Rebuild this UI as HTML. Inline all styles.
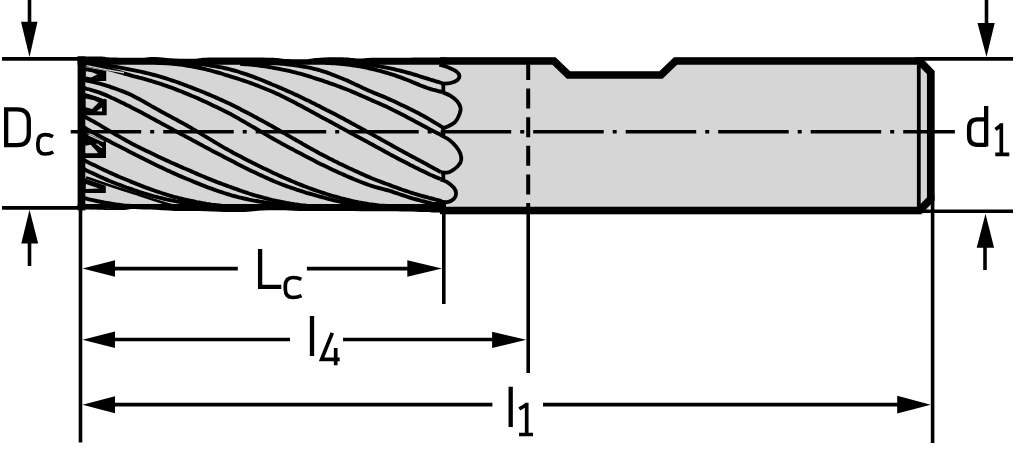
<!DOCTYPE html>
<html><head><meta charset="utf-8"><style>
html,body{margin:0;padding:0;background:#fff;overflow:hidden;width:1024px;height:450px;font-family:"Liberation Sans",sans-serif;}
svg{display:block;}
</style></head><body>
<svg width="1024" height="450" viewBox="0 0 1024 450">
<defs>
<clipPath id="fl"><rect x="82" y="60" width="361.5" height="150"/></clipPath>
</defs>
<path d="M78 61 L446 61 L446 57 L554.5 57 L570 71.5 L660 71.5 L675 57 L923.5 57 L934.5 72 L934.5 203 L923 214.5 L445 214.5 L445 205 L78 205 Z" fill="#d6d6d6"/>
<g clip-path="url(#fl)" fill="none" stroke="#000" stroke-width="3.9" stroke-linejoin="round">
<polyline points="84.0,211.6 86.5,211.9 89.0,211.9 91.5,211.7 94.0,211.6 96.5,211.5 99.0,211.3 101.5,211.1 104.0,210.9 106.5,210.6 109.0,210.3 111.5,210.0 114.0,209.7 116.5,209.3 119.0,208.9 121.5,208.5 124.0,208.1 126.5,207.7 129.0,207.3 131.5,207.1 134.0,206.9 136.5,206.8 139.0,206.7 141.5,206.7 144.0,206.7 146.5,206.7 149.0,206.7 151.5,206.7 154.0,206.7 156.5,206.7 159.0,206.7 161.5,206.7 164.0,206.7 166.5,206.7 169.0,206.7"/>
<polyline points="84.0,198.0 86.5,198.7 89.0,199.4 91.5,199.9 94.0,200.4 96.5,201.0 99.0,201.5 101.5,202.0 104.0,202.5 106.5,202.9 109.0,203.3 111.5,203.7 114.0,204.1 116.5,204.5 119.0,204.8 121.5,205.1 124.0,205.4 126.5,205.6 129.0,205.8 131.5,206.0 134.0,206.2 136.5,206.3 139.0,206.4 141.5,206.5 144.0,206.6 146.5,206.6 149.0,206.7 151.5,206.7 154.0,206.7 156.5,206.7 159.0,206.7 161.5,206.7 164.0,206.7 166.5,206.7 169.0,206.7 171.5,206.7 174.0,206.7 176.5,206.7 179.0,206.7 181.5,206.7 184.0,206.7 186.5,206.7"/>
<polyline points="84.0,169.0 86.5,170.5 89.0,171.7 91.5,172.8 94.0,173.9 96.5,175.1 99.0,176.2 101.5,177.4 104.0,178.5 106.5,179.6 109.0,180.7 111.5,181.7 114.0,182.7 116.5,183.7 119.0,184.7 121.5,185.6 124.0,186.6 126.5,187.5 129.0,188.3 131.5,189.2 134.0,190.1 136.5,190.9 139.0,191.8 141.5,192.6 144.0,193.4 146.5,194.1 149.0,194.9 151.5,195.6 154.0,196.3 156.5,196.9 159.0,197.6 161.5,198.2 164.0,198.8 166.5,199.4 169.0,199.9 171.5,200.4 174.0,200.9 176.5,201.4 179.0,201.8 181.5,202.2 184.0,202.6 186.5,203.0 189.0,203.4 191.5,203.7 194.0,204.0 196.5,204.3 199.0,204.6 201.5,204.9 204.0,205.1 206.5,205.3 209.0,205.5 211.5,205.7 214.0,205.8 216.5,205.9 219.0,206.0 221.5,206.1 224.0,206.2 226.5,206.3 229.0,206.4 231.5,206.5 234.0,206.6 236.5,206.6 239.0,206.7 241.5,206.7 244.0,206.7 246.5,206.7 249.0,206.7 251.5,206.7 254.0,206.7"/>
<polyline points="84.0,160.0 86.5,161.5 89.0,162.8 91.5,164.0 94.0,165.1 96.5,166.3 99.0,167.5 101.5,168.7 104.0,169.9 106.5,171.1 109.0,172.3 111.5,173.4 114.0,174.5 116.5,175.6 119.0,176.7 121.5,177.7 124.0,178.8 126.5,179.8 129.0,180.8 131.5,181.9 134.0,182.9 136.5,183.9 139.0,184.9 141.5,185.9 144.0,186.9 146.5,187.8 149.0,188.7 151.5,189.6 154.0,190.5 156.5,191.4 159.0,192.2 161.5,193.0 164.0,193.8 166.5,194.6 169.0,195.4 171.5,196.1 174.0,196.8 176.5,197.4 179.0,198.1 181.5,198.7 184.0,199.3 186.5,199.9 189.0,200.5 191.5,201.0 194.0,201.5 196.5,202.1 199.0,202.5 201.5,203.0 204.0,203.4 206.5,203.9 209.0,204.2 211.5,204.6 214.0,204.9 216.5,205.2 219.0,205.5 221.5,205.8 224.0,206.0 226.5,206.2 229.0,206.3 231.5,206.5 234.0,206.6 236.5,206.6 239.0,206.7 241.5,206.7 244.0,206.7 246.5,206.7 249.0,206.7 251.5,206.7 254.0,206.7 256.5,206.7 259.0,206.7 261.5,206.7 264.0,206.7 266.5,206.7 269.0,206.7 271.5,206.7"/>
<polyline points="84.0,127.2 86.5,128.9 89.0,130.3 91.5,131.7 94.0,133.0 96.5,134.4 99.0,135.7 101.5,137.1 104.0,138.4 106.5,139.7 109.0,141.0 111.5,142.4 114.0,143.7 116.5,145.0 119.0,146.2 121.5,147.5 124.0,148.8 126.5,150.1 129.0,151.4 131.5,152.7 134.0,154.0 136.5,155.3 139.0,156.5 141.5,157.8 144.0,159.1 146.5,160.3 149.0,161.6 151.5,162.8 154.0,164.0 156.5,165.2 159.0,166.4 161.5,167.6 164.0,168.8 166.5,170.0 169.0,171.1 171.5,172.3 174.0,173.4 176.5,174.5 179.0,175.6 181.5,176.6 184.0,177.7 186.5,178.8 189.0,179.8 191.5,180.8 194.0,181.9 196.5,182.9 199.0,183.9 201.5,184.9 204.0,185.9 206.5,186.9 209.0,187.8 211.5,188.7 214.0,189.6 216.5,190.5 219.0,191.4 221.5,192.2 224.0,193.0 226.5,193.8 229.0,194.5 231.5,195.3 234.0,196.0 236.5,196.6 239.0,197.3 241.5,197.9 244.0,198.5 246.5,199.0 249.0,199.6 251.5,200.1 254.0,200.6 256.5,201.0 259.0,201.5 261.5,201.9 264.0,202.3 266.5,202.6 269.0,203.0 271.5,203.3 274.0,203.6 276.5,203.9 279.0,204.2 281.5,204.5 284.0,204.7 286.5,205.0 289.0,205.2 291.5,205.4 294.0,205.6 296.5,205.7 299.0,205.8 301.5,206.0 304.0,206.1 306.5,206.2 309.0,206.2 311.5,206.3 314.0,206.4 316.5,206.5 319.0,206.6 321.5,206.6 324.0,206.7 326.5,206.7 329.0,206.7 331.5,206.7 334.0,206.7 336.5,206.7 339.0,206.7"/>
<polyline points="84.0,115.9 86.5,117.6 89.0,119.1 91.5,120.4 94.0,121.8 96.5,123.2 99.0,124.7 101.5,126.2 104.0,127.6 106.5,129.1 109.0,130.6 111.5,132.1 114.0,133.5 116.5,135.0 119.0,136.4 121.5,137.9 124.0,139.3 126.5,140.7 129.0,142.1 131.5,143.4 134.0,144.7 136.5,146.0 139.0,147.2 141.5,148.5 144.0,149.7 146.5,150.9 149.0,152.1 151.5,153.3 154.0,154.5 156.5,155.7 159.0,156.9 161.5,158.1 164.0,159.2 166.5,160.4 169.0,161.5 171.5,162.7 174.0,163.8 176.5,164.9 179.0,166.0 181.5,167.1 184.0,168.2 186.5,169.2 189.0,170.3 191.5,171.4 194.0,172.5 196.5,173.6 199.0,174.7 201.5,175.8 204.0,176.8 206.5,177.9 209.0,178.9 211.5,179.9 214.0,180.9 216.5,181.9 219.0,182.8 221.5,183.7 224.0,184.7 226.5,185.6 229.0,186.5 231.5,187.4 234.0,188.3 236.5,189.2 239.0,190.1 241.5,191.0 244.0,191.9 246.5,192.7 249.0,193.5 251.5,194.3 254.0,195.1 256.5,195.8 259.0,196.5 261.5,197.2 264.0,197.9 266.5,198.5 269.0,199.2 271.5,199.8 274.0,200.3 276.5,200.9 279.0,201.4 281.5,201.9 284.0,202.4 286.5,202.9 289.0,203.3 291.5,203.8 294.0,204.2 296.5,204.5 299.0,204.9 301.5,205.2 304.0,205.4 306.5,205.7 309.0,205.9 311.5,206.1 314.0,206.3 316.5,206.4 319.0,206.5 321.5,206.6 324.0,206.7 326.5,206.7 329.0,206.7 331.5,206.7 334.0,206.7 336.5,206.7 339.0,206.7 341.5,206.7 344.0,206.7 346.5,206.7 349.0,206.7 351.5,206.7 354.0,206.7 356.5,206.7"/>
<polyline points="84.0,87.7 86.5,88.8 89.0,89.4 91.5,90.1 94.0,90.8 96.5,91.6 99.0,92.4 101.5,93.4 104.0,94.4 106.5,95.4 109.0,96.5 111.5,97.7 114.0,98.8 116.5,100.0 119.0,101.2 121.5,102.4 124.0,103.6 126.5,104.9 129.0,106.1 131.5,107.4 134.0,108.7 136.5,110.0 139.0,111.3 141.5,112.6 144.0,113.9 146.5,115.3 149.0,116.6 151.5,118.0 154.0,119.3 156.5,120.7 159.0,122.0 161.5,123.4 164.0,124.7 166.5,126.1 169.0,127.4 171.5,128.8 174.0,130.2 176.5,131.5 179.0,132.9 181.5,134.2 184.0,135.6 186.5,136.9 189.0,138.3 191.5,139.6 194.0,141.0 196.5,142.3 199.0,143.7 201.5,145.0 204.0,146.4 206.5,147.7 209.0,149.0 211.5,150.4 214.0,151.7 216.5,153.0 219.0,154.3 221.5,155.6 224.0,156.9 226.5,158.2 229.0,159.5 231.5,160.8 234.0,162.1 236.5,163.4 239.0,164.7 241.5,165.9 244.0,167.2 246.5,168.4 249.0,169.7 251.5,170.9 254.0,172.1 256.5,173.3 259.0,174.5 261.5,175.6 264.0,176.8 266.5,177.9 269.0,179.0 271.5,180.1 274.0,181.2 276.5,182.2 279.0,183.2 281.5,184.2 284.0,185.2 286.5,186.1 289.0,187.0 291.5,187.9 294.0,188.7 296.5,189.6 299.0,190.4 301.5,191.2 304.0,192.0 306.5,192.8 309.0,193.5 311.5,194.2 314.0,194.9 316.5,195.6 319.0,196.3 321.5,197.0 324.0,197.7 326.5,198.3 329.0,199.0 331.5,199.6 334.0,200.3 336.5,200.9 339.0,201.4 341.5,202.0 344.0,202.5 346.5,203.0 349.0,203.5 351.5,203.9 354.0,204.3 356.5,204.7 359.0,205.1 361.5,205.4 364.0,205.7 366.5,205.9 369.0,206.1 371.5,206.3 374.0,206.4 376.5,206.5 379.0,206.6 381.5,206.6 384.0,206.7 386.5,206.7 389.0,206.7 391.5,206.7 394.0,206.7 396.5,206.7 399.0,206.7 401.5,206.7 404.0,206.7 406.5,206.7 409.0,206.7 411.5,206.7 414.0,206.7 416.5,206.7 419.0,206.7 421.5,206.7 424.0,206.7"/>
<polyline points="84.0,79.8 86.5,80.7 89.0,81.2 91.5,81.7 94.0,82.2 96.5,82.8 99.0,83.4 101.5,84.1 104.0,84.8 106.5,85.6 109.0,86.4 111.5,87.3 114.0,88.2 116.5,89.0 119.0,90.0 121.5,90.9 124.0,91.8 126.5,92.9 129.0,93.9 131.5,95.1 134.0,96.4 136.5,97.7 139.0,99.0 141.5,100.4 144.0,101.8 146.5,103.2 149.0,104.6 151.5,106.1 154.0,107.5 156.5,108.9 159.0,110.3 161.5,111.7 164.0,113.1 166.5,114.4 169.0,115.8 171.5,117.1 174.0,118.5 176.5,119.8 179.0,121.2 181.5,122.5 184.0,123.9 186.5,125.3 189.0,126.7 191.5,128.2 194.0,129.7 196.5,131.2 199.0,132.7 201.5,134.2 204.0,135.7 206.5,137.2 209.0,138.7 211.5,140.2 214.0,141.7 216.5,143.1 219.0,144.6 221.5,146.1 224.0,147.6 226.5,149.0 229.0,150.4 231.5,151.8 234.0,153.2 236.5,154.5 239.0,155.8 241.5,157.1 244.0,158.4 246.5,159.7 249.0,161.0 251.5,162.3 254.0,163.5 256.5,164.8 259.0,166.0 261.5,167.2 264.0,168.4 266.5,169.6 269.0,170.8 271.5,172.0 274.0,173.2 276.5,174.3 279.0,175.5 281.5,176.6 284.0,177.7 286.5,178.8 289.0,179.9 291.5,181.0 294.0,182.0 296.5,183.1 299.0,184.1 301.5,185.1 304.0,186.1 306.5,187.0 309.0,188.0 311.5,188.9 314.0,189.8 316.5,190.7 319.0,191.5 321.5,192.4 324.0,193.2 326.5,194.0 329.0,194.8 331.5,195.6 334.0,196.3 336.5,197.0 339.0,197.7 341.5,198.4 344.0,199.0 346.5,199.6 349.0,200.2 351.5,200.8 354.0,201.4 356.5,201.9 359.0,202.4 361.5,202.8 364.0,203.3 366.5,203.7 369.0,204.1 371.5,204.4 374.0,204.8 376.5,205.1 379.0,205.4 381.5,205.6 384.0,205.8 386.5,206.0 389.0,206.2 391.5,206.3 394.0,206.5 396.5,206.5 399.0,206.6 401.5,206.7 404.0,206.7 406.5,206.7 409.0,206.7 411.5,206.7 414.0,206.7 416.5,206.7 419.0,206.7 421.5,206.7 424.0,206.7 426.5,206.7 429.0,206.7 431.5,206.7 434.0,206.7 436.5,206.7 439.0,206.7 441.5,206.7"/>
<polyline points="84.0,64.4 86.5,64.8 89.0,65.2 91.5,65.7 94.0,66.1 96.5,66.5 99.0,67.0 101.5,67.6 104.0,68.1 106.5,68.7 109.0,69.3 111.5,69.9 114.0,70.6 116.5,71.3 119.0,72.0 121.5,72.7 124.0,73.5 126.5,74.2 129.0,74.9 131.5,75.6 134.0,76.3 136.5,76.9 139.0,77.6 141.5,78.2 144.0,78.9 146.5,79.6 149.0,80.3 151.5,81.0 154.0,81.8 156.5,82.6 159.0,83.4 161.5,84.2 164.0,85.1 166.5,85.9 169.0,86.8 171.5,87.7 174.0,88.6 176.5,89.6 179.0,90.6 181.5,91.5 184.0,92.6 186.5,93.6 189.0,94.6 191.5,95.7 194.0,96.7 196.5,97.8 199.0,98.9 201.5,100.1 204.0,101.2 206.5,102.3 209.0,103.5 211.5,104.7 214.0,105.9 216.5,107.1 219.0,108.3 221.5,109.5 224.0,110.7 226.5,112.0 229.0,113.3 231.5,114.6 234.0,116.0 236.5,117.4 239.0,118.8 241.5,120.3 244.0,121.7 246.5,123.2 249.0,124.6 251.5,126.1 254.0,127.5 256.5,129.0 259.0,130.5 261.5,131.9 264.0,133.4 266.5,134.9 269.0,136.3 271.5,137.8 274.0,139.2 276.5,140.6 279.0,142.0 281.5,143.4 284.0,144.7 286.5,146.1 289.0,147.5 291.5,148.8 294.0,150.1 296.5,151.5 299.0,152.8 301.5,154.1 304.0,155.4 306.5,156.8 309.0,158.1 311.5,159.3 314.0,160.6 316.5,161.9 319.0,163.2 321.5,164.4 324.0,165.6 326.5,166.8 329.0,168.0 331.5,169.2 334.0,170.4 336.5,171.5 339.0,172.7 341.5,173.8 344.0,174.9 346.5,176.0 349.0,177.1 351.5,178.1 354.0,179.2 356.5,180.2 359.0,181.2 361.5,182.2 364.0,183.2 366.5,184.1 369.0,185.0 371.5,185.8 374.0,186.6 376.5,187.3 379.0,188.0 381.5,188.6 384.0,189.3 386.5,190.0 389.0,190.7 391.5,191.4 394.0,192.3 396.5,193.1 399.0,194.0 401.5,194.8 404.0,195.7 406.5,196.5 409.0,197.3 411.5,198.1 414.0,198.8 416.5,199.5 419.0,200.2 421.5,200.9 424.0,201.5 426.5,202.2 429.0,202.7 431.5,203.3 434.0,203.8 436.5,204.2 439.0,204.6 441.5,205.0"/>
<polyline points="89.2,63.9 91.7,64.0 94.2,64.2 96.7,64.4 99.2,64.6 101.7,64.9 104.2,65.2 106.7,65.5 109.2,65.8 111.7,66.2 114.2,66.6 116.7,67.0 119.2,67.4 121.7,67.9 124.2,68.4 126.7,68.9 129.2,69.4 131.7,69.9 134.2,70.4 136.7,70.9 139.2,71.4 141.7,71.9 144.2,72.5 146.7,73.1 149.2,73.7 151.7,74.3 154.2,75.0 156.7,75.7 159.2,76.4 161.7,77.1 164.2,77.9 166.7,78.7 169.2,79.5 171.7,80.3 174.2,81.2 176.7,82.0 179.2,82.9 181.7,83.8 184.2,84.8 186.7,85.7 189.2,86.7 191.7,87.6 194.2,88.6 196.7,89.6 199.2,90.5 201.7,91.5 204.2,92.5 206.7,93.6 209.2,94.6 211.7,95.7 214.2,96.8 216.7,97.9 219.2,99.0 221.7,100.1 224.2,101.2 226.7,102.4 229.2,103.6 231.7,104.8 234.2,106.1 236.7,107.3 239.2,108.6 241.7,109.9 244.2,111.2 246.7,112.5 249.2,113.8 251.7,115.1 254.2,116.5 256.7,117.8 259.2,119.2 261.7,120.5 264.2,121.9 266.7,123.3 269.2,124.7 271.7,126.0 274.2,127.5 276.7,128.9 279.2,130.3 281.7,131.8 284.2,133.2 286.7,134.7 289.2,136.1 291.7,137.6 294.2,139.0 296.7,140.5 299.2,141.9 301.7,143.3 304.2,144.8 306.7,146.2 309.2,147.6 311.7,149.0 314.2,150.4 316.7,151.8 319.2,153.2 321.7,154.5 324.2,155.8 326.7,157.1 329.2,158.4 331.7,159.6 334.2,160.9 336.7,162.1 339.2,163.4 341.7,164.6 344.2,165.8 346.7,167.0 349.2,168.2 351.7,169.3 354.2,170.5 356.7,171.6 359.2,172.8 361.7,173.9 364.2,175.0 366.7,176.1 369.2,177.1 371.7,178.2 374.2,179.2 376.7,180.2 379.2,181.2 381.7,182.1 384.2,183.1 386.7,184.0 389.2,184.9 391.7,185.9 394.2,186.8 396.7,187.7 399.2,188.6 401.7,189.5 404.2,190.3 406.7,191.2 409.2,192.0 411.7,192.8 414.2,193.6 416.7,194.3 419.2,195.1 421.7,195.8 424.2,196.5 426.7,197.2 429.2,197.9 431.7,198.5 434.2,199.2 436.7,199.8 439.2,200.4 441.7,201.1"/>
<polyline points="155.2,62.9 157.7,62.9 160.2,63.0 162.7,63.1 165.2,63.2 167.7,63.3 170.2,63.5 172.7,63.7 175.2,64.0 177.7,64.2 180.2,64.6 182.7,64.9 185.2,65.3 187.7,65.7 190.2,66.1 192.7,66.5 195.2,67.0 197.7,67.5 200.2,68.0 202.7,68.6 205.2,69.2 207.7,69.8 210.2,70.4 212.7,71.1 215.2,71.8 217.7,72.5 220.2,73.2 222.7,74.0 225.2,74.8 227.7,75.5 230.2,76.3 232.7,77.1 235.2,77.9 237.7,78.7 240.2,79.5 242.7,80.3 245.2,81.2 247.7,82.0 250.2,82.9 252.7,83.8 255.2,84.8 257.7,85.7 260.2,86.7 262.7,87.7 265.2,88.7 267.7,89.7 270.2,90.8 272.7,91.8 275.2,93.0 277.7,94.1 280.2,95.3 282.7,96.5 285.2,97.7 287.7,99.0 290.2,100.3 292.7,101.5 295.2,102.8 297.7,104.2 300.2,105.5 302.7,106.8 305.2,108.2 307.7,109.5 310.2,110.9 312.7,112.2 315.2,113.6 317.7,115.0 320.2,116.4 322.7,117.7 325.2,119.1 327.7,120.4 330.2,121.8 332.7,123.1 335.2,124.5 337.7,125.8 340.2,127.2 342.7,128.6 345.2,129.9 347.7,131.3 350.2,132.7 352.7,134.0 355.2,135.4 357.7,136.7 360.2,138.1 362.7,139.4 365.2,140.8 367.7,142.1 370.2,143.5 372.7,144.8 375.2,146.2 377.7,147.6 380.2,148.9 382.7,150.3 385.2,151.7 387.7,153.0 390.2,154.4 392.7,155.7 395.2,157.1 397.7,158.4 400.2,159.7 402.7,161.0 405.2,162.3 407.7,163.6 410.2,164.9 412.7,166.1 415.2,167.4 417.7,168.6 420.2,169.9 422.7,171.1 425.2,172.3 427.7,173.5 430.2,174.7 432.7,175.8 435.2,176.9 437.7,177.9 440.2,179.0 440.6,179.4"/>
<polyline points="174.1,62.9 176.6,62.9 179.1,62.9 181.6,62.9 184.1,63.0 186.6,63.1 189.1,63.3 191.6,63.4 194.1,63.6 196.6,63.8 199.1,64.1 201.6,64.3 204.1,64.6 206.6,64.9 209.1,65.3 211.6,65.7 214.1,66.1 216.6,66.5 219.1,67.0 221.6,67.4 224.1,68.0 226.6,68.5 229.1,69.1 231.6,69.8 234.1,70.5 236.6,71.2 239.1,72.0 241.6,72.8 244.1,73.6 246.6,74.4 249.1,75.3 251.6,76.2 254.1,77.1 256.6,78.1 259.1,79.0 261.6,80.0 264.1,81.0 266.6,82.1 269.1,83.1 271.6,84.2 274.1,85.2 276.6,86.3 279.1,87.4 281.6,88.4 284.1,89.5 286.6,90.6 289.1,91.7 291.6,92.8 294.1,94.0 296.6,95.1 299.1,96.3 301.6,97.5 304.1,98.7 306.6,99.9 309.1,101.1 311.6,102.4 314.1,103.6 316.6,104.9 319.1,106.1 321.6,107.4 324.1,108.7 326.6,110.0 329.1,111.2 331.6,112.5 334.1,113.8 336.6,115.1 339.1,116.5 341.6,117.8 344.1,119.1 346.6,120.5 349.1,121.8 351.6,123.2 354.1,124.5 356.6,125.9 359.1,127.2 361.6,128.6 364.1,130.0 366.6,131.4 369.1,132.7 371.6,134.1 374.1,135.5 376.6,136.9 379.1,138.3 381.6,139.7 384.1,141.1 386.6,142.5 389.1,143.9 391.6,145.3 394.1,146.7 396.6,148.1 399.1,149.5 401.6,150.8 404.1,152.2 406.6,153.5 409.1,154.9 411.6,156.2 414.1,157.6 416.6,158.9 419.1,160.2 421.6,161.6 424.1,162.9 426.6,164.3 429.1,165.7 431.6,167.1 434.1,168.4 436.6,169.7 439.1,171.1 440.6,172.2"/>
<polyline points="240.1,63.9 242.6,64.1 245.1,64.2 247.6,64.4 250.1,64.6 252.6,64.8 255.1,65.1 257.6,65.4 260.1,65.7 262.6,66.0 265.1,66.4 267.6,66.8 270.1,67.2 272.6,67.7 275.1,68.1 277.6,68.6 280.1,69.1 282.6,69.6 285.1,70.1 287.6,70.6 290.1,71.2 292.6,71.8 295.1,72.4 297.6,73.1 300.1,73.7 302.6,74.4 305.1,75.2 307.6,75.9 310.1,76.7 312.6,77.5 315.1,78.3 317.6,79.1 320.1,79.9 322.6,80.7 325.1,81.6 327.6,82.4 330.1,83.3 332.6,84.1 335.1,85.0 337.6,86.0 340.1,86.9 342.6,87.9 345.1,88.8 347.6,89.8 350.1,90.8 352.6,91.9 355.1,92.9 357.6,94.0 360.1,95.1 362.6,96.2 365.1,97.3 367.6,98.4 370.1,99.5 372.6,100.6 375.1,101.7 377.6,102.8 380.1,103.9 382.6,105.0 385.1,106.1 387.6,107.3 390.1,108.5 392.6,109.7 395.1,110.9 397.6,112.2 400.1,113.5 402.6,114.8 405.1,116.1 407.6,117.4 410.1,118.7 412.6,120.0 415.1,121.4 417.6,122.7 420.1,124.1 422.6,125.4 425.1,126.8 427.6,128.1 430.1,129.5 432.6,130.8 435.1,132.0 437.6,133.2 440.1,134.5 441.7,135.6"/>
<polyline points="259.0,62.9 261.5,62.9 264.0,62.9 266.5,63.0 269.0,63.0 271.5,63.1 274.0,63.2 276.5,63.4 279.0,63.5 281.5,63.7 284.0,63.9 286.5,64.2 289.0,64.5 291.5,64.8 294.0,65.1 296.5,65.5 299.0,65.9 301.5,66.3 304.0,66.7 306.5,67.2 309.0,67.7 311.5,68.2 314.0,68.8 316.5,69.4 319.0,70.0 321.5,70.8 324.0,71.6 326.5,72.4 329.0,73.3 331.5,74.3 334.0,75.2 336.5,76.2 339.0,77.2 341.5,78.2 344.0,79.3 346.5,80.3 349.0,81.4 351.5,82.6 354.0,83.7 356.5,84.9 359.0,86.0 361.5,87.2 364.0,88.4 366.5,89.6 369.0,90.7 371.5,91.8 374.0,92.9 376.5,93.9 379.0,94.9 381.5,95.9 384.0,96.9 386.5,98.0 389.0,99.1 391.5,100.2 394.0,101.3 396.5,102.5 399.0,103.7 401.5,104.9 404.0,106.1 406.5,107.3 409.0,108.6 411.5,109.8 414.0,111.1 416.5,112.3 419.0,113.6 421.5,114.9 424.0,116.3 426.5,117.7 429.0,119.2 431.5,120.7 434.0,122.2 436.5,123.6 439.0,125.1 441.5,126.6 442.8,127.8"/>
<polyline points="325.0,62.9 327.5,62.9 330.0,63.0 332.5,63.2 335.0,63.3 337.5,63.5 340.0,63.7 342.5,64.0 345.0,64.2 347.5,64.5 350.0,64.9 352.5,65.2 355.0,65.6 357.5,66.0 360.0,66.4 362.5,66.9 365.0,67.4 367.5,67.9 370.0,68.5 372.5,69.0 375.0,69.6 377.5,70.3 380.0,70.9 382.5,71.6 385.0,72.3 387.5,73.0 390.0,73.8 392.5,74.6 395.0,75.4 397.5,76.3 400.0,77.2 402.5,78.1 405.0,79.1 407.5,80.0 410.0,81.0 412.5,82.1 415.0,83.1 417.5,84.1 420.0,85.2 422.5,86.2 425.0,87.1 427.5,88.0 430.0,88.8 432.5,89.6 435.0,90.2 437.5,90.9 440.0,91.5 442.5,92.1 442.8,92.4"/>
<polyline points="343.9,63.1 346.4,63.1 348.9,63.2 351.4,63.3 353.9,63.4 356.4,63.6 358.9,63.8 361.4,64.0 363.9,64.2 366.4,64.5 368.9,64.8 371.4,65.1 373.9,65.5 376.4,65.8 378.9,66.2 381.4,66.7 383.9,67.1 386.4,67.6 388.9,68.1 391.4,68.6 393.9,69.2 396.4,69.8 398.9,70.4 401.4,71.0 403.9,71.6 406.4,72.3 408.9,73.0 411.4,73.7 413.9,74.5 416.4,75.2 418.9,76.0 421.4,76.8 423.9,77.6 426.4,78.4 428.9,79.2 431.4,80.0 433.9,80.7 436.4,81.5 438.9,82.2 441.4,83.0 442.8,83.6"/>
</g>
<g fill="none" stroke="#000" stroke-width="3.8">
<path d="M439.4 64.7 C440.7 65.1 444.4 65.8 447.2 66.9 C450.0 68.0 454.1 69.8 456.1 71.3 C458.1 72.8 459.2 74.3 459.4 75.8 C459.6 77.3 458.7 79.0 457.2 80.2 C455.7 81.4 453.0 82.4 450.6 83.0 C448.2 83.6 444.1 83.5 442.8 83.6"/>
<path d="M442.8 92.4 C444.1 93.0 448.2 94.3 450.6 95.8 C453.0 97.3 455.5 99.3 457.2 101.3 C458.9 103.3 460.2 105.8 460.6 108.0 C461.0 110.2 460.3 112.0 459.4 114.4 C458.5 116.8 457.0 120.2 455.0 122.2 C453.0 124.2 449.2 125.8 447.2 126.7 C445.2 127.6 443.5 127.6 442.8 127.8"/>
<path d="M441.7 135.6 C443.0 136.3 447.0 138.2 449.4 140.0 C451.8 141.8 454.3 144.4 456.1 146.7 C457.9 148.9 459.5 151.3 460.3 153.5 C461.1 155.7 461.5 158.0 461.2 160.0 C460.9 162.0 459.8 163.9 458.3 165.6 C456.9 167.3 454.4 169.1 452.5 170.3 C450.6 171.5 449.2 172.3 447.2 172.6 C445.2 172.9 441.7 172.3 440.6 172.2"/>
<path d="M440.6 179.4 C441.7 179.9 445.0 180.8 447.2 182.2 C449.4 183.6 452.4 186.0 453.9 187.8 C455.4 189.7 456.1 191.5 456.1 193.3 C456.1 195.2 455.4 197.4 453.9 198.9 C452.4 200.4 450.2 201.8 447.2 202.2 C444.2 202.6 438.0 201.3 436.1 201.1"/>
<path d="M443.3 83 V93 M443.3 127.3 V136 M443.3 171.8 V180"/>
</g>
<line x1="70.7" y1="131.8" x2="954.9" y2="131.8" stroke="#000" stroke-width="3.5" stroke-dasharray="70.5 9 4 9"/>
<line x1="528.2" y1="60" x2="528.2" y2="210" stroke="#000" stroke-width="4" stroke-dasharray="20 8.6"/>
<line x1="918.8" y1="61" x2="918.8" y2="210.5" stroke="#000" stroke-width="3.8"/>
<path d="M77.6 56.4 C81.3 56.4 94.3 56.4 100.0 56.6 C105.7 56.8 105.3 57.4 112.0 57.6 C118.7 57.8 132.8 57.9 140.0 57.8 C147.2 57.7 149.2 56.9 155.0 57.0 C160.8 57.1 168.3 58.3 175.0 58.6 C181.7 58.9 188.8 58.9 195.0 58.7 C201.2 58.5 199.5 57.6 212.0 57.5 C224.5 57.4 257.8 57.5 270.0 57.8 C282.2 58.0 279.2 58.8 285.0 59.0 C290.8 59.2 299.2 59.5 305.0 59.3 C310.8 59.1 313.3 58.0 320.0 57.7 C326.7 57.4 338.3 57.2 345.0 57.4 C351.7 57.5 355.0 58.5 360.0 58.6 C365.0 58.7 362.5 58.0 375.0 57.8 C387.5 57.6 423.2 57.5 435.0 57.4 C446.8 57.3 444.2 57.2 446.0 57.2 L446 64.8 L77.6 64.8 Z" fill="#000"/>
<path d="M77.6 209.6 C81.3 209.5 93.8 209.4 100.0 209.2 C106.2 209.0 110.0 208.4 115.0 208.4 C120.0 208.4 124.2 208.8 130.0 209.0 C135.8 209.2 142.5 209.3 150.0 209.6 C157.5 209.9 166.7 210.7 175.0 210.9 C183.3 211.1 191.7 210.8 200.0 211.0 C208.3 211.2 217.5 211.8 225.0 212.0 C232.5 212.2 238.8 212.1 245.0 211.9 C251.2 211.7 256.2 210.9 262.0 210.6 C267.8 210.3 273.7 210.2 280.0 210.3 C286.3 210.4 291.7 210.9 300.0 211.0 C308.3 211.1 316.7 210.9 330.0 211.0 C343.3 211.1 365.0 211.1 380.0 211.3 C395.0 211.5 410.8 211.8 420.0 212.0 C429.2 212.2 430.7 212.3 435.0 212.6 C439.3 212.8 444.2 213.3 446.0 213.5 L446 204 L77.6 204 Z" fill="#000"/>
<rect x="77.6" y="56.4" width="7.7" height="154" fill="#000"/>
<path d="M440 61 L554 61 L568.5 75 L661 75 L675.5 61 L919.5 61 L930.8 72.5 L930.8 199 L919.5 210.5 L440 210.5" fill="none" stroke="#000" stroke-width="7.7" stroke-linejoin="miter"/>
<path d="M86 177.6 C100 182, 115 187.5, 130 192 S 155 201, 175 206" fill="none" stroke="#000" stroke-width="2.6"/>
<g fill="#000">
<polygon points="85,67 106.2,71 106.2,81 85,81"/>
<polygon points="85,93 106.7,99.5 106.7,115.2 85,115.2"/>
<polygon points="85,132.5 106,141.5 106,157.9 85,157.9"/>
<polygon points="85,178.5 105.8,185.8 105.8,192.9 85,192.9"/>
</g>
<g fill="#d6d6d6">
<polygon points="85.9,71.3 92,72.2 97.3,74.5 91,77.6 85.9,76.6"/>
<polygon points="85.7,98.4 94,100.2 98.5,102.4 92.1,109.1 85.7,107.3"/>
<polygon points="96.7,111.2 102,107.3 102,111.6"/>
<polygon points="85.3,145.8 90.7,144.7 97.8,152.5 97,153.2 85.3,153.2"/>
<polygon points="85.8,184 99.1,188.4 85.8,188.9"/>
</g>
<g stroke="#d6d6d6" stroke-width="1.3" fill="none">
<path d="M88.5 135 L103.5 141.6"/>
<path d="M96.6 143.8 L102 147.8"/>
<path d="M87.6 91.6 L104 98.6"/>
<path d="M86.5 65.6 L106 69.6 L124 72.8" stroke-width="1.4"/>
</g>
<g stroke="#000" stroke-width="3.6" fill="none">
<line x1="2" y1="58.9" x2="80" y2="58.9"/>
<line x1="2" y1="207.9" x2="80" y2="207.9"/>
<line x1="915" y1="58.9" x2="1013" y2="58.9"/>
<line x1="921" y1="211.3" x2="1013" y2="211.3"/>
<line x1="80.5" y1="205" x2="80.5" y2="442.5"/>
<line x1="443.8" y1="205" x2="443.8" y2="304"/>
<line x1="528.2" y1="210" x2="528.2" y2="373"/>
<line x1="932.6" y1="195" x2="932.6" y2="443"/>
<line x1="29.5" y1="0" x2="29.5" y2="25"/>
<line x1="29.5" y1="240" x2="29.5" y2="266"/>
<line x1="986.5" y1="0" x2="986.5" y2="25"/>
<line x1="985" y1="244" x2="985" y2="270"/>
<line x1="100" y1="268.6" x2="237.8" y2="268.6"/>
<line x1="306.9" y1="268.6" x2="425" y2="268.6"/>
<line x1="100" y1="339.5" x2="290" y2="339.5"/>
<line x1="343" y1="339.5" x2="510" y2="339.5"/>
<line x1="100" y1="404.6" x2="492.4" y2="404.6"/>
<line x1="543" y1="404.6" x2="915" y2="404.6"/>
</g>
<g fill="#000">
<polygon points="29.5,57 21,21.8 37.5,21.8"/>
<polygon points="29.5,209.8 21.3,243.5 38.2,243.5"/>
<polygon points="986.5,57 977.5,23 994.7,23"/>
<polygon points="985.5,213.7 976.7,247.8 994.1,247.8"/>
<polygon points="82.5,268.6 115,260.2 115,276.8"/>
<polygon points="442,268.6 407.3,260.2 407.3,276.8"/>
<polygon points="82.5,339.8 115,331.6 115,348"/>
<polygon points="526.2,339.8 492.1,331.8 492.1,348.1"/>
<polygon points="82.5,404.7 115,396.2 115,413.2"/>
<polygon points="930.7,404.7 897.2,395.8 897.2,413.6"/>
</g>
<g fill="none" stroke="#000" stroke-width="4.3" stroke-linecap="butt" stroke-linejoin="miter">
<path d="M6.15 109.45 H17 C24.5 109.45 28.8 113 28.8 121 V134 C28.8 141.5 24.5 145.15 17 145.15 H6.15 Z"/>
<path d="M260.1 249 V286.9 H281.3"/>
<path d="M312 316 V356"/>
<path d="M510.7 386.7 V427"/>
<path d="M986.15 106 V146.5 M986.15 119.3 H977.5 C972 119.3 969.1 122 969.1 128 V136 C969.1 142 972 144.85 977.5 144.85 H986.15"/>
</g>
<g fill="none" stroke="#000" stroke-width="3.7" stroke-linecap="butt" stroke-linejoin="miter">
<path d="M53 136.7 C50 135 47.5 134.7 45 134.7 C40 134.7 37.9 137.5 37.9 143 V146 C37.9 151.5 40 154 45 154 C47.5 154 50.5 153.6 53.3 152"/>
<path d="M301.3 279.3 C298.5 277.8 295.5 277.5 293 277.5 C288 277.5 285.3 280.5 285.3 286 V289 C285.3 294.5 288 297.5 293 297.5 C295.5 297.5 298.5 297.2 301.5 295.7"/>
<path d="M332.3 332.9 L321.6 359.3 H339.7 M335.7 348 V365.3"/>
<path d="M1001.3 123.3 V152.7 M1001.3 125 L995.5 129.5 M995.3 154.35 H1009.3"/>
<path d="M526.7 402.7 V433 M526.7 404.5 L519.3 409 M519 434.5 H533"/>
</g>
</svg>
</body></html>
